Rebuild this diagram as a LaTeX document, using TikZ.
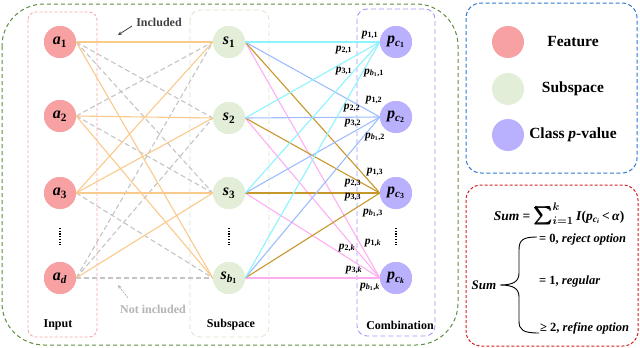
\documentclass[tikz,border=0pt]{standalone}
\usepackage{amsmath}
\usepackage{bm}
\usepackage{fontspec}
\setmainfont{Liberation Serif}
\usetikzlibrary{arrows.meta}
\definecolor{featc}{HTML}{F7A1A3}
\definecolor{subc}{HTML}{E2EED8}
\definecolor{pvc}{HTML}{B9B1FD}
\definecolor{orangeE}{HTML}{FAC98C}
\definecolor{grayE}{HTML}{C4C4C4}
\definecolor{cyanE}{HTML}{8CF3FF}
\definecolor{blueE}{HTML}{9DBDFF}
\definecolor{goldE}{HTML}{C8972C}
\definecolor{pinkE}{HTML}{FFAEF2}
\definecolor{outerG}{HTML}{5E8E3E}
\definecolor{inputB}{HTML}{F9A3A8}
\definecolor{subB}{HTML}{D8E6CC}
\definecolor{combB}{HTML}{A497FA}
\definecolor{legB}{HTML}{2E7BD0}
\definecolor{sumB}{HTML}{D42020}
\definecolor{txtG}{HTML}{404040}
\definecolor{txtL}{HTML}{B4B4B4}
\newcommand{\vb}[1]{\textbf{\textit{#1}}}
\newcommand{\sbs}[1]{\textsubscript{#1}}
\newcommand{\pl}[2]{\vb{p}\sbs{#1\textbf{,}#2}}
\begin{document}
\begin{tikzpicture}[x=1pt,y=-1pt,
  nd/.style={circle,minimum size=32pt,inner sep=0pt,font=\fontsize{16}{16}\selectfont},
  fnode/.style={nd,fill=featc},
  snode/.style={nd,fill=subc},
  pnode/.style={nd,fill=pvc},
  inc/.style={orangeE,line width=1.1pt},
  exc/.style={grayE,line width=1.1pt,dash pattern=on 5pt off 3pt},
  ecyan/.style={cyanE,line width=1.1pt},
  eblue/.style={blueE,line width=1.1pt},
  egold/.style={goldE,line width=1.1pt},
  epink/.style={pinkE,line width=1.1pt},
  plab/.style={inner sep=0pt,font=\fontsize{11.5}{11.5}\selectfont},
  grp/.style={inner sep=0pt,font=\fontsize{12}{12}\selectfont\bfseries},
  legtxt/.style={inner sep=0pt,font=\fontsize{15.5}{16}\selectfont\bfseries},
  dotcol/.style={line width=1.6pt,dash pattern=on 1.1pt off 1.6pt},
  eqtxt/.style={inner sep=0pt,anchor=west,font=\fontsize{12.5}{12.5}\selectfont}
]
\useasboundingbox (0,0) rectangle (640,348);
% group boxes
\draw[outerG,line width=1pt,dash pattern=on 4pt off 3pt,rounded corners=42pt] (2,4) rectangle (458,345);
\draw[inputB,line width=0.8pt,dash pattern=on 3pt off 2pt,rounded corners=8pt] (28,12) rectangle (97,337);
\draw[subB,line width=0.8pt,dash pattern=on 5pt off 3pt,rounded corners=10pt] (190,10) rectangle (269,337);
\draw[combB,line width=0.9pt,dash pattern=on 5pt off 3pt,rounded corners=10pt] (357,9) rectangle (435,336);
\draw[legB,line width=1pt,dash pattern=on 4pt off 2.5pt,rounded corners=15pt] (466,3) rectangle (637,173);
\draw[sumB,line width=1pt,dash pattern=on 3pt off 2pt,rounded corners=15pt] (466,185) rectangle (638,346);
% node positions
\node[fnode] (a1) at (60,42) {};
\node[fnode] (a2) at (60,116) {};
\node[fnode] (a3) at (60,193) {};
\node[fnode] (ad) at (60,278) {};
\node[snode] (s1) at (229,42) {};
\node[snode] (s2) at (229,118) {};
\node[snode] (s3) at (229,193) {};
\node[snode] (sb) at (229,278) {};
\node[pnode] (p1) at (396,42) {};
\node[pnode] (p2) at (396,117) {};
\node[pnode] (p3) at (396,193) {};
\node[pnode] (pk) at (396,278) {};
% input -> subspace edges
\draw[exc] (a2.east) -- (s1.west);
\draw[exc] (ad.east) -- (s1.west);
\draw[exc] (a1.east) -- (s2.west);
\draw[exc] (ad.east) -- (s2.west);
\draw[exc] (a1.east) -- (s3.west);
\draw[exc] (a2.east) -- (s3.west);
\draw[exc] (a3.east) -- (sb.west);
\draw[exc] (ad.east) -- (sb.west);
\draw[inc] (a1.east) -- (s1.west);
\draw[inc] (a3.east) -- (s1.west);
\draw[inc] (a2.east) -- (s2.west);
\draw[inc] (a3.east) -- (s2.west);
\draw[inc] (a3.east) -- (s3.west);
\draw[inc] (ad.east) -- (s3.west);
\draw[inc] (a1.east) -- (sb.west);
\draw[inc] (a2.east) -- (sb.west);
% subspace -> combination edges
\foreach \s in {s1,s2,s3,sb}{
  \draw[epink] (\s.east) -- (pk.west);
  \draw[egold] (\s.east) -- (p3.west);
  \draw[eblue] (\s.east) -- (p2.west);
  \draw[ecyan] (\s.east) -- (p1.west);
}
% nodes with labels on top
\node[fnode] at (a1) {\vb{a}\sbs{\textbf{1}}};
\node[fnode] at (a2) {\vb{a}\sbs{\textbf{2}}};
\node[fnode] at (a3) {\vb{a}\sbs{\textbf{3}}};
\node[fnode] at (ad) {\vb{a}\sbs{\vb{d}}};
\node[snode] at (s1) {\vb{s}\sbs{\textbf{1}}};
\node[snode] at (s2) {\vb{s}\sbs{\textbf{2}}};
\node[snode] at (s3) {\vb{s}\sbs{\textbf{3}}};
\node[snode] at (sb) {\vb{s}\sbs{\vb{b}\sbs{\textbf{1}}}};
\node[pnode] at (p1) {\vb{p}\sbs{\vb{c}\sbs{\textbf{1}}}};
\node[pnode] at (p2) {\vb{p}\sbs{\vb{c}\sbs{\textbf{2}}}};
\node[pnode] at (p3) {\vb{p}\sbs{\vb{c}\sbs{\textbf{3}}}};
\node[pnode] at (pk) {\vb{p}\sbs{\vb{c}\sbs{\vb{k}}}};
% vertical dots
\draw[dotcol] (60,228) -- (60,246);
\draw[dotcol] (229,228) -- (229,246);
\draw[dotcol] (396,228) -- (396,246);
% p labels
\node[plab] (l11) at (370,35) {\pl{\textbf{1}}{\textbf{1}}};
\node[plab] (l21) at (344,50) {\pl{\textbf{2}}{\textbf{1}}};
\node[plab] (l31) at (344,71) {\pl{\textbf{3}}{\textbf{1}}};
\node[plab] (lb1) at (374,73) {\pl{\vb{b}\sbs{\textbf{1}}}{\textbf{1}}};
\node[plab] (l12) at (374,100) {\pl{\textbf{1}}{\textbf{2}}};
\node[plab] (l22) at (352,108) {\pl{\textbf{2}}{\textbf{2}}};
\node[plab] (l32) at (353,123) {\pl{\textbf{3}}{\textbf{2}}};
\node[plab] (lb2) at (375,137) {\pl{\vb{b}\sbs{\textbf{1}}}{\textbf{2}}};
\node[plab] (l13) at (375,172) {\pl{\textbf{1}}{\textbf{3}}};
\node[plab] (l23) at (353,183) {\pl{\textbf{2}}{\textbf{3}}};
\node[plab] (l33) at (353,197) {\pl{\textbf{3}}{\textbf{3}}};
\node[plab] (lb3) at (373,213) {\pl{\vb{b}\sbs{\textbf{1}}}{\textbf{3}}};
\node[plab] (l1k) at (373,243) {\pl{\textbf{1}}{\vb{k}}};
\node[plab] (l2k) at (347,248) {\pl{\textbf{2}}{\vb{k}}};
\node[plab] (l3k) at (354,270) {\pl{\textbf{3}}{\vb{k}}};
\node[plab] (lbk) at (370,287) {\pl{\vb{b}\sbs{\textbf{1}}}{\vb{k}}};
% group labels
\node[grp] (tin) at (58,325) {Input};
\node[grp] (tsub) at (231,325) {Subspace};
\node[grp] (tcomb) at (400,325) {Combination};
% included / not included
\node[grp,text=txtG] (tinc) at (159,22) {Included};
\coordinate (incA) at (132,26);
\coordinate (incB) at (118,35);
\draw[txtG,line width=0.8pt,-{Stealth[length=4pt,width=3.5pt]}] (incA) -- (incB);
\node[grp,text=txtL] (tninc) at (153,309) {Not included};
\coordinate (nincA) at (128,298);
\coordinate (nincB) at (118,285);
\draw[txtL,line width=0.8pt,dash pattern=on 2pt off 1pt,-{Stealth[length=4pt,width=3.5pt]}] (nincA) -- (nincB);
% legend
\node[nd,fill=featc] (lf) at (508,42) {};
\node[nd,fill=subc] (ls) at (508,89) {};
\node[nd,fill=pvc] (lp) at (508,135) {};
\node[legtxt] (tf) at (573,42) {Feature};
\node[legtxt] (ts) at (573,89) {Subspace};
\node[legtxt] (tp) at (573,135) {Class \textit{p}-value};
% sum box
\node[inner sep=0pt,font=\fontsize{13.5}{13.5}\selectfont] (sumeq) at (559,214) {\vb{Sum} \textbf{=} {\fontsize{16}{16}\selectfont$\bm{\sum\nolimits_{i=1}^{k}}$}\,\vb{I}\textbf{(}\vb{p}\sbs{\vb{c}\sbs{\vb{i}}}\,\textbf{<}\,\vb{α}\textbf{)}};
\node[inner sep=0pt,font=\fontsize{13}{13}\selectfont] (sumL) at (484,285) {\vb{Sum}};
\draw[line width=0.9pt] (537,237) .. controls (523,237) and (519,240) .. (519,250) -- (519,273) .. controls (519,281) and (514,285) .. (500,285) .. controls (514,285) and (519,289) .. (519,297) -- (519,321) .. controls (519,330) and (523,333) .. (539,333);
\node[eqtxt] (o0) at (539,239) {\textbf{= 0,} \vb{reject option}};
\node[eqtxt] (o1) at (539,281) {\textbf{= 1,} \vb{regular}};
\node[eqtxt] (o2) at (540,328) {\textbf{≥ 2,} \vb{refine option}};
\end{tikzpicture}
\end{document}
